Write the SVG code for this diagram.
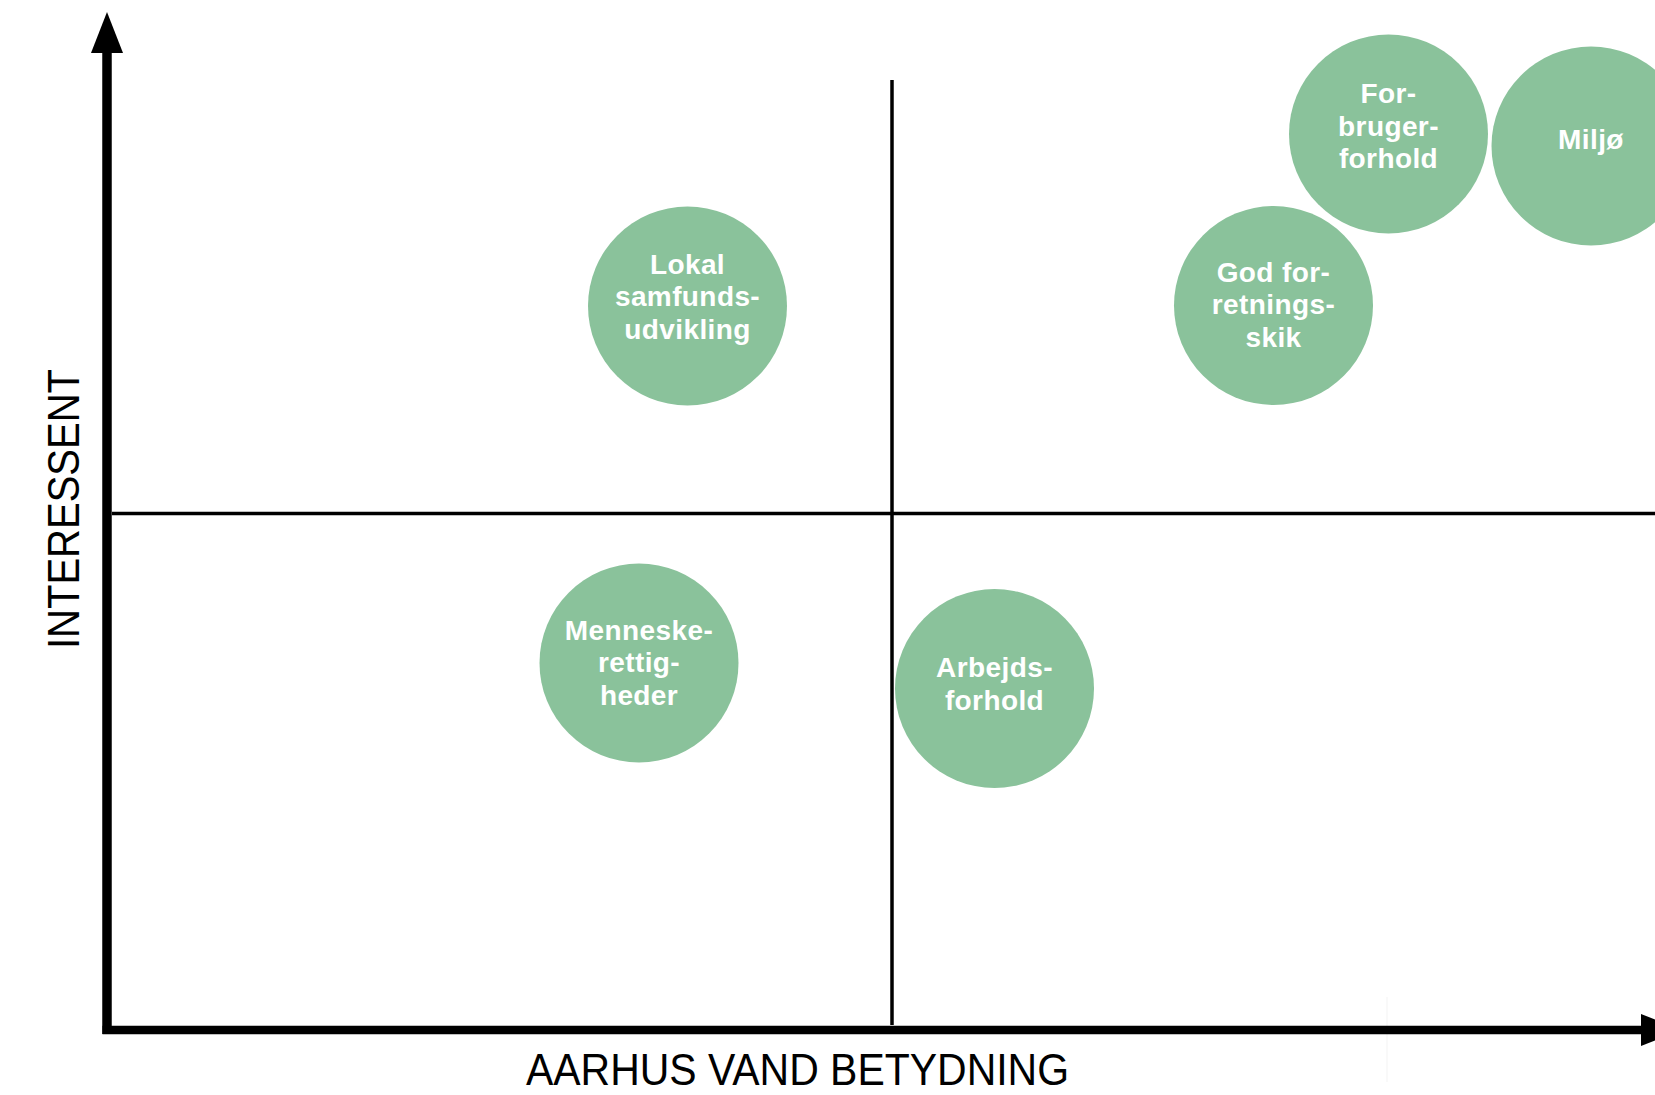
<svg xmlns="http://www.w3.org/2000/svg" width="1655" height="1095" viewBox="0 0 1655 1095">
<style>
.bubble{fill:#8AC29B;}
.lbl{font-family:"Liberation Sans",Arial,sans-serif;font-weight:bold;font-size:28px;fill:#ffffff;text-anchor:middle;letter-spacing:0.4px;}
.axis{stroke:#000;fill:none;}
.grid{stroke:#000;stroke-width:3.5;fill:none;}
.axlbl{font-family:"Liberation Sans",Arial,sans-serif;font-size:44px;fill:#000;text-anchor:middle;}
</style>
<defs>
<marker id="arrow" markerUnits="userSpaceOnUse" markerWidth="42" markerHeight="32" refX="0" refY="16" orient="auto">
<path d="M0,0 L41,16 L0,32 z" fill="#000"/>
</marker>
</defs>
<rect width="1655" height="1095" fill="#fff"/>
<g id="connectors">
<line class="grid" x1="892" y1="80" x2="892" y2="1025"/>
<line class="grid" x1="112" y1="513.5" x2="1655" y2="513.5"/>
<line x1="1387" y1="997" x2="1387" y2="1082" stroke="#f3f3f3" stroke-width="1"/>
<line class="axis" x1="107" y1="1034" x2="107" y2="53" stroke-width="9.5" marker-end="url(#arrow)"/>
<line class="axis" x1="102.5" y1="1030" x2="1641" y2="1030" stroke-width="8.5" marker-end="url(#arrow)"/>
</g>
<g id="axis-y-label">
<text class="axlbl" transform="translate(79,509) rotate(-90)" textLength="280" lengthAdjust="spacingAndGlyphs">INTERESSENT</text>
</g>
<g id="axis-x-label">
<text class="axlbl" x="797.5" y="1085" textLength="543" lengthAdjust="spacingAndGlyphs">AARHUS VAND BETYDNING</text>
</g>
<g id="node-lokal">
<circle class="bubble" cx="687.5" cy="306" r="99.5"/>
<text class="lbl" x="687.5" y="273.5">Lokal</text>
<text class="lbl" x="687.5" y="306">samfunds-</text>
<text class="lbl" x="687.5" y="338.5">udvikling</text>
</g>
<g id="node-forbruger">
<circle class="bubble" cx="1388.5" cy="134" r="99.5"/>
<text class="lbl" x="1388.5" y="103">For-</text>
<text class="lbl" x="1388.5" y="135.5">bruger-</text>
<text class="lbl" x="1388.5" y="168">forhold</text>
</g>
<g id="node-miljo">
<circle class="bubble" cx="1591" cy="146" r="99.5"/>
<text class="lbl" x="1591" y="148.5">Miljø</text>
</g>
<g id="node-godforretningsskik">
<circle class="bubble" cx="1273.5" cy="305.5" r="99.5"/>
<text class="lbl" x="1273.5" y="281.5">God for-</text>
<text class="lbl" x="1273.5" y="314">retnings-</text>
<text class="lbl" x="1273.5" y="346.5">skik</text>
</g>
<g id="node-menneskerettigheder">
<circle class="bubble" cx="639" cy="663" r="99.5"/>
<text class="lbl" x="639" y="639.5">Menneske-</text>
<text class="lbl" x="639" y="672">rettig-</text>
<text class="lbl" x="639" y="704.5">heder</text>
</g>
<g id="node-arbejdsforhold">
<circle class="bubble" cx="994.5" cy="688.5" r="99.5"/>
<text class="lbl" x="994.5" y="677">Arbejds-</text>
<text class="lbl" x="994.5" y="710">forhold</text>
</g>
</svg>
